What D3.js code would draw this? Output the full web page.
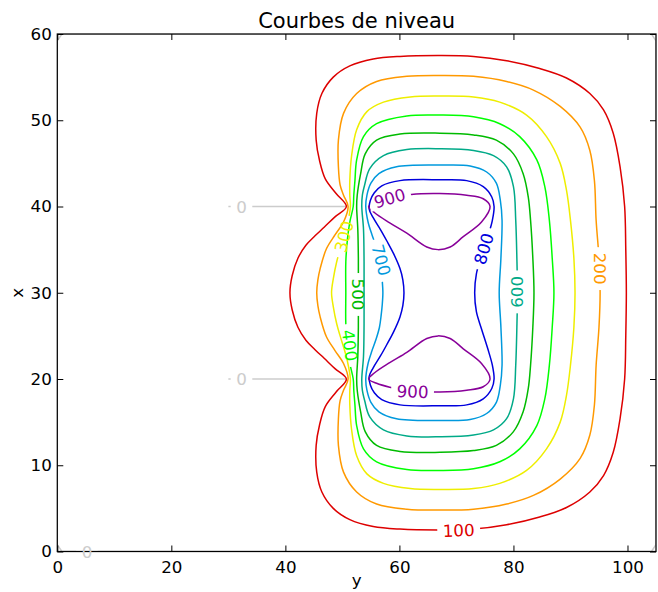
<!DOCTYPE html>
<html>
<head>
<meta charset="utf-8">
<script src="https://cdn.jsdelivr.net/npm/d3@7"></script>
<style>
  body { margin: 0; background: #fff; }
</style>
</head>
<body>
<div id="chart-area"></div>
<script>
/*
*    courbes de niveau
*/
var levels = [0, 100, 200, 300, 400, 500, 600, 700, 800, 900];
var colors = ["#cccccc", "#dd0000", "#ff9900", "#eeee00", "#00ff00",
              "#00bb00", "#00aa88", "#0099dd", "#0000dd", "#880099"];

var xTicks = [0, 20, 40, 60, 80, 100];
var yTicks = [0, 10, 20, 30, 40, 50, 60];

// contour points, [y, x] (y horizontal, x vertical)
var c0_edge = [[0.8,0],[104.2,0],[105,0.8],[105,59.2],[104.2,60],[0.8,60],[0,59.2],[0,0.8]];
var c0_top = [[30,40],[50.6,40]];
var c0_bot = [[30,20],[50.6,20]];

var c100 = [[40.8,30],[41.2,32],[42.2,34],[43.6,35.5],[45.2,36.6],[46.8,37.6],[48.7,38.8],[50.7,40.0],[48.9,41.5],[47.0,43.2],[46.0,45.3],[45.4,47.7],[45.5,50.8],[46.4,53.1],[48.4,55.0],[51.3,56.3],[55.4,57.1],[60.1,57.4],[67.1,57.5],[73.0,57.4],[78.8,56.9],[84.6,56.0],[89.3,54.9],[93.4,53.1],[95.8,51.2],[97.5,48.5],[98.7,44.6],[99.5,40.0],[99.7,35],[99.8,30],
  [99.7,25],[99.5,20.0],[98.7,15.4],[97.5,11.5],[95.8,8.8],[93.4,6.9],[89.3,5.1],[84.6,4.0],[78.8,3.1],[73.0,2.6],[67.1,2.5],[60.1,2.6],[55.4,2.9],[51.3,3.7],[48.4,5.0],[46.4,6.9],[45.5,9.2],[45.4,12.3],[46.0,14.7],[47.0,16.8],[48.9,18.5],[50.7,20.0],[48.7,21.2],[46.8,22.4],[45.2,23.4],[43.6,24.5],[42.2,26],[41.2,28]];

var c200 = [[45.5,30],[45.7,31.5],[46.1,32.8],[47.2,35.1],[48.7,36.7],[50.2,38.2],[51.0,40.0],[50.2,41.3],[49.6,42.5],[49.3,44.6],[49.3,47.7],[50.2,50.8],[52.5,53.1],[56.0,54.5],[61.3,55.1],[67.1,55.2],[73.0,55.1],[78.8,54.5],[83.5,53.5],[88.2,51.6],[91.7,49.2],[93.4,46.5],[94.2,43.0],[94.5,38.4],[95.0,34],[95.2,30],
  [95.0,26],[94.5,21.6],[94.2,17.0],[93.4,13.5],[91.7,10.8],[88.2,8.4],[83.5,6.5],[78.8,5.5],[73.0,4.9],[67.1,4.8],[61.3,4.9],[56.0,5.5],[52.5,6.9],[50.2,9.2],[49.3,12.3],[49.3,15.4],[49.6,17.5],[50.2,18.7],[51.0,20.0],[50.2,21.8],[48.7,23.3],[47.2,24.9],[46.1,27.2],[45.7,28.5]];

var c300 = [[48.1,30],[48.4,31.6],[49.0,33.6],[49.6,35],[50.3,36.5],[50.9,38.0],[51.4,40.0],[51.3,41.3],[51.3,43.0],[51.6,45.8],[52.5,48.9],[54.3,51.0],[57.2,52.1],[61.9,52.7],[67.1,52.8],[73.0,52.7],[77.6,52.1],[82.3,50.6],[85.8,48.1],[88.2,45.0],[89.3,41.9],[90.0,38.4],[90.6,34],[90.8,30],
  [90.6,26],[90.0,21.6],[89.3,18.1],[88.2,15.0],[85.8,11.9],[82.3,9.4],[77.6,7.9],[73.0,7.3],[67.1,7.2],[61.9,7.3],[57.2,7.9],[54.3,9.0],[52.5,11.1],[51.6,14.2],[51.3,17.0],[51.3,18.7],[51.4,20.0],[50.9,22.0],[50.3,23.5],[49.6,25],[49.0,26.4],[48.4,28.4]];

var c400 = [[50.6,30],[50.6,33.6],[50.9,36.3],[51.3,38.2],[51.9,40.0],[52.0,41.3],[52.2,43],[52.5,45.4],[53.7,48.1],[56.0,49.6],[61.3,50.5],[67.1,50.6],[73.0,50.4],[77.6,49.6],[81.1,48.1],[84.1,45.4],[85.5,42.3],[86.3,38.4],[86.8,34],[87.1,30],
  [86.8,26],[86.3,21.6],[85.5,17.7],[84.1,14.6],[81.1,11.9],[77.6,10.4],[73.0,9.6],[67.1,9.4],[61.3,9.5],[56.0,10.4],[53.7,11.9],[52.5,14.6],[52.2,17],[52.0,18.7],[51.9,20.0],[51.3,21.8],[50.9,23.7],[50.6,26.4]];

var c500 = [[52.8,30],[52.8,34],[52.7,37.4],[52.5,40.0],[52.6,41.3],[53.2,43.8],[54.0,46.1],[56.0,47.7],[60.1,48.4],[67.1,48.5],[73.0,48.3],[77.0,47.7],[80.0,46.1],[81.7,43.8],[82.6,41.1],[83.0,38.4],[83.4,34],[83.6,30],
  [83.4,26],[83.0,21.6],[82.6,18.9],[81.7,16.2],[80.0,13.9],[77.0,12.3],[73.0,11.7],[67.1,11.5],[60.1,11.6],[56.0,12.3],[54.0,13.9],[53.2,16.2],[52.6,18.7],[52.5,20.0],[52.7,22.6],[52.8,26]];

var c600 = [[53.8,30],[53.8,33.6],[53.7,37.4],[53.4,40.0],[53.5,41.3],[53.9,42.5],[54.8,44.4],[57.2,45.9],[61.3,46.6],[67.1,46.7],[73.0,46.5],[76.5,45.9],[78.8,44.6],[80.0,42.3],[80.4,38.4],[80.6,34],[80.7,30],
  [80.6,26],[80.4,21.6],[80.0,17.7],[78.8,15.4],[76.5,14.1],[73.0,13.5],[67.1,13.3],[61.3,13.4],[57.2,14.1],[54.8,15.6],[53.9,17.5],[53.5,18.7],[53.4,20.0],[53.7,22.6],[53.8,26.4]];

var c700 = [[57.1,30],[57.0,31.3],[56.8,32.6],[56.5,34.0],[55.9,35.4],[55.2,36.7],[54.5,38.2],[54.1,40.0],[54.3,41.3],[55.0,42.7],[56.4,43.8],[59.5,44.6],[67.1,44.8],[72.4,44.7],[75.3,44.0],[77.0,42.7],[77.7,40.7],[78.0,38.4],[77.8,34],[77.5,30],
  [77.8,26],[78.0,21.6],[77.7,19.3],[77.0,17.3],[75.3,16.0],[72.4,15.3],[67.1,15.2],[59.5,15.4],[56.4,16.2],[55.0,17.3],[54.3,18.7],[54.1,20.0],[54.5,21.8],[55.2,23.3],[55.9,24.6],[56.5,26.0],[56.8,27.4],[57.0,28.7]];

var c800 = [[60.8,30],[60.6,31.5],[60.1,32.8],[59.0,34.5],[57.8,36.0],[56.7,37.3],[55.4,38.7],[54.7,39.7],[54.9,40.7],[55.6,41.6],[56.9,42.4],[60.1,43.0],[67.1,43.1],[71.8,43.0],[74.7,42.3],[76.2,41.1],[76.6,40.0],[76.3,38.4],[75.5,36.5],[74.4,34.2],[73.5,32.2],[73.2,30],
  [73.5,27.8],[74.4,25.8],[75.5,23.5],[76.3,21.6],[76.6,20.0],[76.2,18.9],[74.7,17.7],[71.8,17.0],[67.1,16.9],[60.1,17.0],[56.9,17.6],[55.6,18.4],[54.9,19.3],[54.7,20.3],[55.4,21.3],[56.7,22.7],[57.8,24.0],[59.0,25.5],[60.1,27.2],[60.6,28.5]];

var c900_top = [[54.6,40.0],[56.0,40.5],[58.3,40.95],[62.1,41.4],[67.1,41.5],[71.8,41.3],[74.7,40.9],[75.9,40.0],[74.4,38.2],[71.2,36.5],[68.9,35.3],[66.8,35.0],[64.8,35.3],[61.3,36.9],[58.3,38.1],[55.6,39.3]];
var c900_bot = [[54.6,20.0],[55.6,20.7],[58.3,21.9],[61.3,23.1],[64.8,24.7],[66.8,25.0],[68.9,24.7],[71.2,23.5],[74.4,21.8],[75.9,20.0],[74.7,19.1],[71.8,18.7],[67.1,18.5],[62.1,18.6],[58.3,19.05],[56.0,19.5]];

// contour labels: level, position [y, x], angle along the line
var labelLevel = [100, 200, 300, 400, 500, 600, 700, 800, 900, 900, 0, 0, 0];
var labelY = [70.4, 95.1, 50.3, 51.3, 52.8, 80.7, 56.8, 74.8, 58.3, 62.3, 32.3, 32.3, 5.2];
var labelX = [2.45, 32.8, 36.5, 23.9, 29.8, 30.1, 33.8, 35.1, 40.95, 18.55, 40, 20, 0];
var labelAngle = [-2, 90, -75, 82, 90, -90, 75, -73, -16, 2, 0, 0, 0];

var contours = [
  {level: 0, pts: c0_edge, closed: true, linear: true},
  {level: 0, pts: c0_top, closed: false, linear: true},
  {level: 0, pts: c0_bot, closed: false, linear: true},
  {level: 100, pts: c100, closed: true},
  {level: 200, pts: c200, closed: true},
  {level: 300, pts: c300, closed: true},
  {level: 400, pts: c400, closed: true},
  {level: 500, pts: c500, closed: true},
  {level: 600, pts: c600, closed: true},
  {level: 700, pts: c700, closed: true},
  {level: 800, pts: c800, closed: true},
  {level: 900, pts: c900_top, closed: true},
  {level: 900, pts: c900_bot, closed: true}
];

var labels = labelLevel.map((d, i) => ({level: d, y: labelY[i], x: labelX[i], angle: labelAngle[i]}));

var W = 658, H = 592;
var padL = 57.3, padR = 656, padT = 34, padB = 551.5;
var fs = 16.7;

var svg = d3.select("#chart-area").append("svg")
  .attr("width", W)
  .attr("height", H)
  .style("background-color", "white")
  .style("font-family", "'DejaVu Sans', sans-serif");

var x = d3.scaleLinear().domain([0, 105]).range([padL, padR]);
var y = d3.scaleLinear().domain([0, 60]).range([padB, padT]);

var color = d3.scaleOrdinal().domain(levels).range(colors);

var defs = svg.append("defs");
defs.append("clipPath").attr("id", "plot-clip")
  .append("rect")
  .attr("x", padL).attr("y", padT)
  .attr("width", padR - padL).attr("height", padB - padT);

// one mask per level, cutting the line where its labels sit
levels.forEach((lev) => {
  var m = defs.append("mask").attr("id", "mask-" + lev)
    .attr("maskUnits", "userSpaceOnUse")
    .attr("x", 0).attr("y", 0).attr("width", W).attr("height", H);
  m.append("rect").attr("x", 0).attr("y", 0).attr("width", W).attr("height", H).attr("fill", "white");
  labels.filter((d) => d.level === lev).forEach((d) => {
    var w = String(d.level).length * 0.636 * fs + 11;
    m.append("rect")
      .attr("x", -w / 2).attr("y", -8)
      .attr("width", w).attr("height", 16)
      .attr("fill", "black")
      .attr("transform", "translate(" + x(d.y) + "," + y(d.x) + ") rotate(" + d.angle + ")");
  });
});

var smooth = d3.line()
  .x((d) => x(d[0]))
  .y((d) => y(d[1]))
  .curve(d3.curveCatmullRomClosed.alpha(0.5));
var straight = d3.line()
  .x((d) => x(d[0]))
  .y((d) => y(d[1]));
var straightClosed = d3.line()
  .x((d) => x(d[0]))
  .y((d) => y(d[1]))
  .curve(d3.curveLinearClosed);

var lines = svg.append("g").attr("clip-path", "url(#plot-clip)");
lines.selectAll("g.level").data(contours)
  .enter()
  .append("g")
  .attr("mask", (d) => "url(#mask-" + d.level + ")")
  .append("path")
  .attr("d", (d) => d.linear ? (d.closed ? straightClosed(d.pts) : straight(d.pts)) : smooth(d.pts))
  .attr("fill", "none")
  .attr("stroke", (d) => color(d.level))
  .attr("stroke-width", 1.5)
  .attr("stroke-linejoin", "round");

// axes, ticks inside on all four sides
function styleAxis(g) {
  g.select(".domain").remove();
  g.selectAll(".tick line").attr("stroke", "black").attr("stroke-width", 1);
  g.selectAll(".tick text").attr("fill", "black");
  g.attr("font-size", fs).attr("font-family", "'DejaVu Sans', sans-serif");
}

svg.append("g")
  .attr("transform", "translate(0," + padB + ")")
  .call(d3.axisBottom(x).tickValues(xTicks).tickSize(-6).tickPadding(10))
  .call(styleAxis);
svg.append("g")
  .attr("transform", "translate(0," + padT + ")")
  .call(d3.axisTop(x).tickValues(xTicks).tickSize(-6).tickFormat(""))
  .call(styleAxis);
svg.append("g")
  .attr("transform", "translate(" + padL + ",0)")
  .call(d3.axisLeft(y).tickValues(yTicks).tickSize(-6).tickPadding(5.5))
  .call(styleAxis);
svg.append("g")
  .attr("transform", "translate(" + padR + ",0)")
  .call(d3.axisRight(y).tickValues(yTicks).tickSize(-6).tickFormat(""))
  .call(styleAxis);

svg.append("rect")
  .attr("x", padL).attr("y", padT)
  .attr("width", padR - padL).attr("height", padB - padT)
  .attr("fill", "none")
  .attr("stroke", "black")
  .attr("stroke-width", 1.25);

// contour labels
svg.append("g").selectAll("text").data(labels)
  .enter()
  .append("text")
  .attr("transform", (d) => "translate(" + x(d.y) + "," + y(d.x) + ") rotate(" + d.angle + ")")
  .attr("text-anchor", "middle")
  .attr("dy", "0.36em")
  .attr("font-size", fs)
  .attr("fill", (d) => color(d.level))
  .text((d) => d.level);

svg.append("text")
  .attr("x", (padL + padR) / 2)
  .attr("y", 27.5)
  .attr("text-anchor", "middle")
  .attr("font-size", 21)
  .text("Courbes de niveau");

svg.append("text")
  .attr("x", (padL + padR) / 2)
  .attr("y", 586)
  .attr("text-anchor", "middle")
  .attr("font-size", fs)
  .text("y");

svg.append("text")
  .attr("transform", "translate(23," + (padT + padB) / 2 + ") rotate(-90)")
  .attr("text-anchor", "middle")
  .attr("font-size", fs)
  .text("x");
</script>
</body>
</html>
